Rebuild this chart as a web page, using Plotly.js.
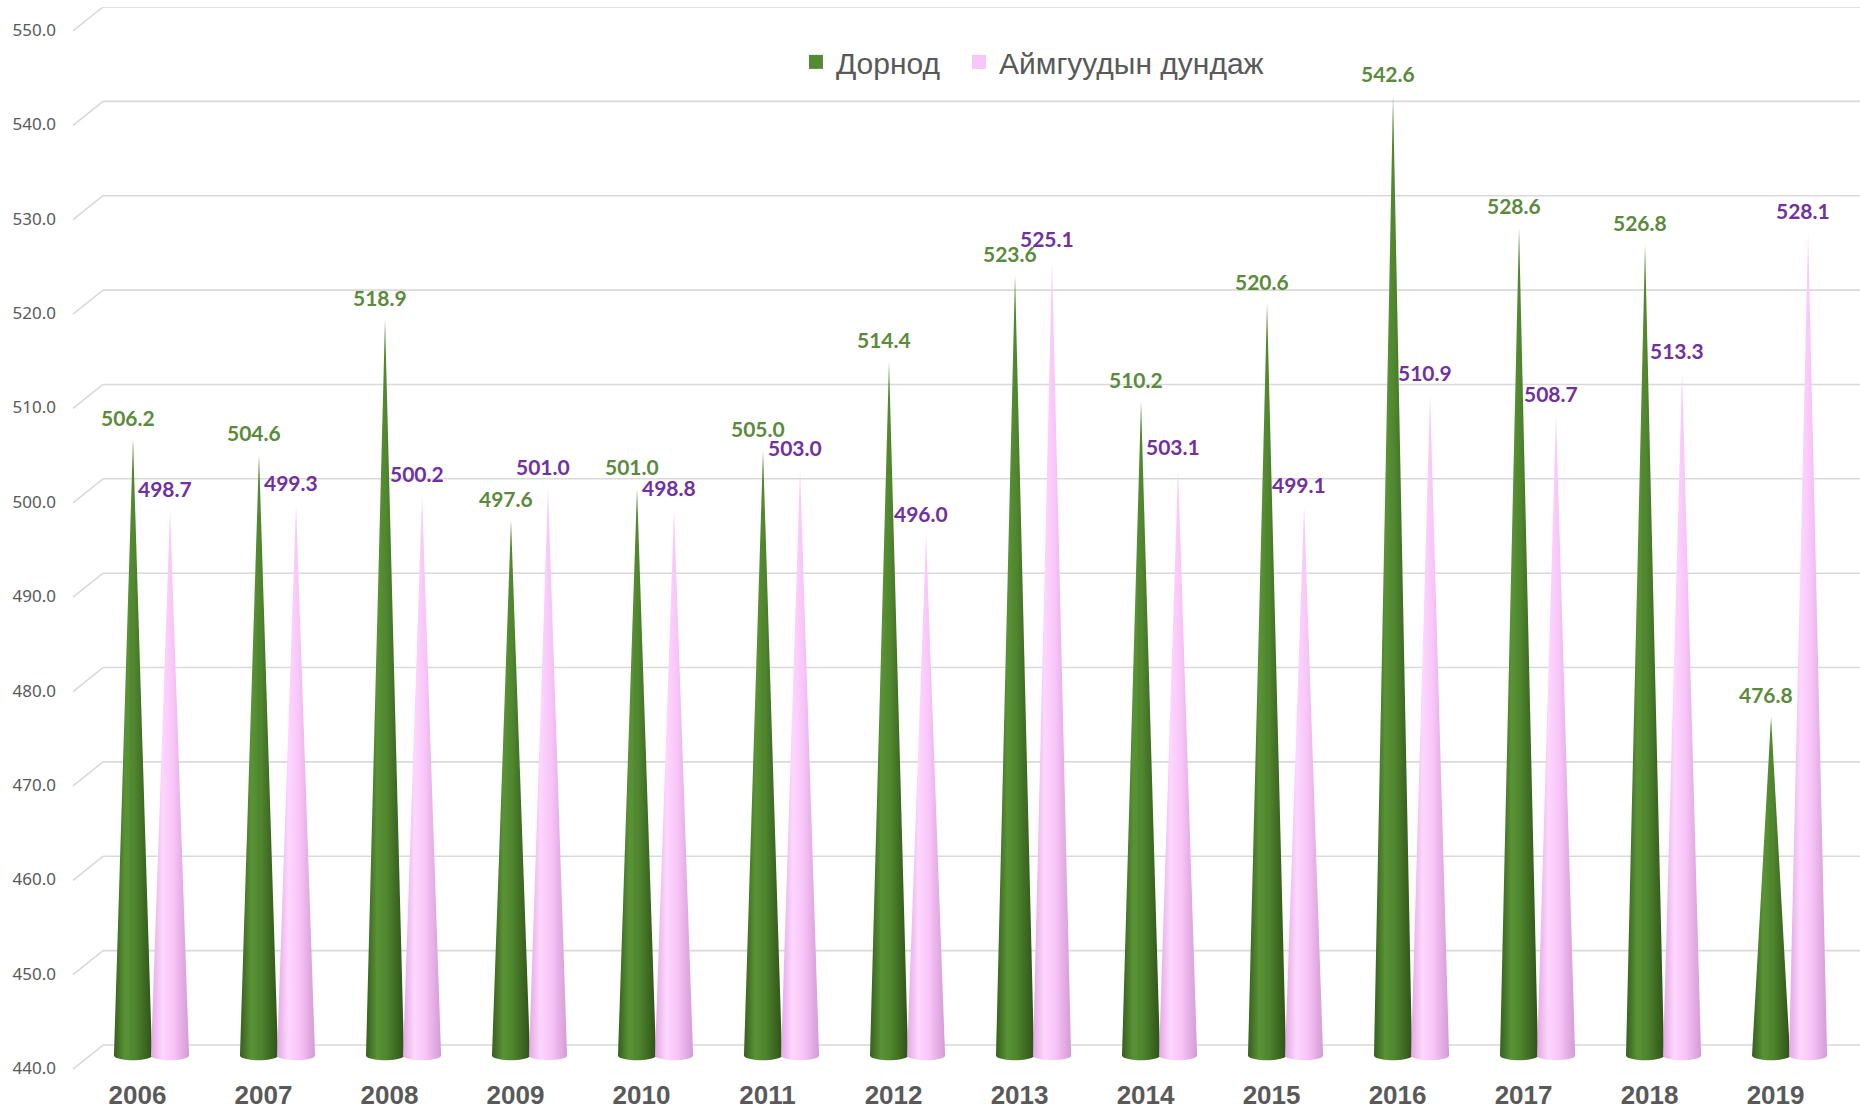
<!DOCTYPE html>
<html>
<head>
<meta charset="utf-8">
<script src="https://cdn.plot.ly/plotly-3.0.1.min.js"></script>
<style>
  html, body { margin: 0; padding: 0; background: #ffffff; }
  #chart { width: 1860px; height: 1111px; }
</style>
</head>
<body>
<div id="chart"></div>
<script>
// ---- data ----
const years = ['2006','2007','2008','2009','2010','2011','2012','2013','2014','2015','2016','2017','2018','2019'];
const dornod = [506.2, 504.6, 518.9, 497.6, 501.0, 505.0, 514.4, 523.6, 510.2, 520.6, 542.6, 528.6, 526.8, 476.8];
const average = [498.7, 499.3, 500.2, 501.0, 498.8, 503.0, 496.0, 525.1, 503.1, 499.1, 510.9, 508.7, 513.3, 528.1];
const seriesNames = ['Дорнод', 'Аймгуудын дундаж'];
const yTicks = [440, 450, 460, 470, 480, 490, 500, 510, 520, 530, 540, 550];

// ---- styling ----
const greenSwatch = '#538a33';
const pinkSwatch = '#f9c6f9';
const greenLabel = '#5b8a3c';
const purpleLabel = '#7030a0';
const greenScale = [[0, '#36601d'], [0.3, '#5a9336'], [0.55, '#4f852e'], [1, '#2f5318']];
const pinkScale = [[0, '#e3a9e3'], [0.3, '#fdd6fd'], [0.6, '#f7c4f7'], [1, '#d59ad5']];
const baseValue = 440;
const offsets = [-0.036, 0.258];
const halfW = 0.151;

function cone(cx, v, yb, ry) {
  const xs = [cx], ys = [v];
  const n = 20;
  for (let k = 0; k <= n; k++) {
    const t = Math.PI * k / n;
    xs.push(cx + halfW * Math.cos(t));
    ys.push(yb - ry * Math.sin(t));
  }
  return {xs, ys};
}

const traces = [];
const annotations = [];
const seriesList = [
  {vals: dornod, off: offsets[0], scale: greenScale, lab: greenLabel},
  {vals: average, off: offsets[1], scale: pinkScale, lab: purpleLabel}
];
years.forEach((yr, i) => {
  seriesList.forEach((s) => {
    const v = s.vals[i];
    const cx = i + s.off;
    const c = cone(cx, v, baseValue + 0.9, 0.5);
    traces.push({
      type: 'scatter', x: c.xs, y: c.ys, mode: 'none', fill: 'toself',
      fillgradient: {type: 'horizontal', colorscale: s.scale},
      fillcolor: s.scale[1][1],
      showlegend: false, hoverinfo: 'skip'
    });
    annotations.push({
      x: cx, y: v, xref: 'x', yref: 'y', text: v.toFixed(1), showarrow: false,
      xshift: -5, yshift: 22, yanchor: 'middle',
      font: {family: 'Lato, "Liberation Sans", sans-serif', size: 21, color: s.lab, weight: 'bold'}
    });
  });
});
// legend proxies
traces.push({type: 'scatter', x: [null], y: [null], mode: 'markers', name: seriesNames[0],
  legend: 'legend',
  marker: {symbol: 'square', size: 14, color: greenSwatch}, hoverinfo: 'skip'});
traces.push({type: 'scatter', x: [null], y: [null], mode: 'markers', name: seriesNames[1],
  legend: 'legend2',
  marker: {symbol: 'square', size: 14, color: pinkSwatch}, hoverinfo: 'skip'});

const shapes = [];
yTicks.forEach((v) => {
  shapes.push({type: 'line', layer: 'below', xref: 'paper', x0: 0, x1: 1,
    yref: 'y', ysizemode: 'pixel', yanchor: v, y0: 19, y1: 19,
    line: {color: '#d9d9d9', width: 1.6}});
  shapes.push({type: 'line', layer: 'below', xref: 'paper', xsizemode: 'pixel', xanchor: 0, x0: -30, x1: 0,
    yref: 'y', ysizemode: 'pixel', yanchor: v, y0: -5, y1: 19,
    line: {color: '#d9d9d9', width: 1.6}});
});

const legendFont = {family: '"Liberation Sans", Arial, sans-serif', size: 30, color: '#595959'};

const layout = {
  width: 1860, height: 1111,
  margin: {l: 103, r: 0, t: 7, b: 28, pad: 0},
  paper_bgcolor: '#ffffff', plot_bgcolor: '#ffffff',
  showlegend: true,
  legend: {
    orientation: 'h', x: 0.3944, xanchor: 'left', y: 0.949, yanchor: 'middle',
    font: legendFont, bgcolor: 'rgba(0,0,0,0)'
  },
  legend2: {
    orientation: 'h', x: 0.4872, xanchor: 'left', y: 0.949, yanchor: 'middle',
    font: legendFont, bgcolor: 'rgba(0,0,0,0)'
  },
  xaxis: {
    type: 'linear', range: [-0.274, 13.67], fixedrange: true,
    tickmode: 'array', tickvals: years.map((y, i) => i), ticktext: years,
    showgrid: false, zeroline: false, showline: false, ticks: '',
    ticklabelstandoff: -6,
    tickfont: {family: '"Liberation Sans", Arial, sans-serif', size: 26, color: '#595959', weight: 'bold'},
    automargin: false
  },
  yaxis: {
    range: [437.99, 552.01], fixedrange: true,
    tickmode: 'array', tickvals: yTicks, ticktext: yTicks.map(v => v.toFixed(1)),
    showgrid: false, zeroline: false, showline: false, ticks: '',
    ticklabelstandoff: 46, ticklabelshift: 4,
    tickfont: {family: '"Noto Sans", "Liberation Sans", sans-serif', size: 17, color: '#595959'},
    automargin: false
  },
  shapes: shapes,
  annotations: annotations
};

Plotly.newPlot('chart', traces, layout, {displayModeBar: false, staticPlot: true});
</script>
</body>
</html>
